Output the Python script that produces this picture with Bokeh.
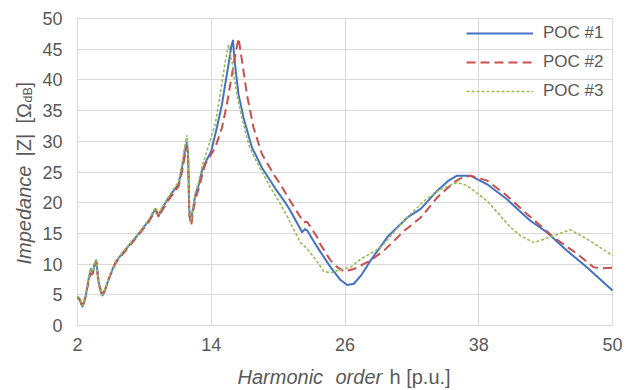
import numpy as np
from bokeh.plotting import figure
from bokeh.models import Range1d, FixedTicker, Label, LinearAxis
from bokeh.embed import file_html
from bokeh.resources import INLINE

# ---------------- data ----------------
h1 = [2.0, 2.2, 2.45, 2.75, 3.0, 3.2, 3.38, 3.53, 3.68, 3.9, 4.1, 4.25, 4.5, 4.9, 5.4, 6.0, 6.6, 7.33,
      8.4, 9.0, 9.3, 9.42, 10.0, 10.6, 11.07, 11.37, 11.67, 11.82, 11.92, 12.03, 12.2, 12.4, 12.57,
      12.86, 13.17, 13.6, 14.0, 14.5, 14.96, 15.3, 15.55, 15.8, 15.95, 16.1, 16.45, 16.9, 17.65, 18.55,
      19.75, 20.65, 21.1, 22.15, 22.4, 22.6, 23.5, 24.7, 25.6, 26.2, 26.8, 27.5, 28.3, 29.8, 31.6,
      32.8, 34.3, 35.3, 36.05, 37.25, 38.75, 40.5, 42.6, 44.1, 45.9, 47.7, 50.0]
z1 = [4.7, 4.3, 3.1, 4.9, 7.6, 9.2, 8.6, 10.0, 10.6, 7.0, 5.7, 4.9, 6.0, 8.1, 10.3, 11.7, 13.0, 14.6,
      17.1, 19.0, 17.9, 18.5, 20.3, 21.9, 23.0, 25.7, 28.8, 29.8, 28.0, 18.7, 17.3, 19.4, 21.3,
      22.8, 25.2, 27.0, 28.4, 32.2, 36.0, 39.8, 42.5, 45.5, 46.4, 43.0, 37.6, 33.8, 29.0, 25.7,
      22.3, 20.0, 18.7, 15.2, 15.7, 15.5, 12.8, 9.5, 7.4, 6.6, 6.8, 8.3, 10.6, 14.4, 17.6,
      19.0, 22.0, 23.6, 24.4, 24.4, 23.0, 20.6, 17.1, 15.2, 12.2, 9.5, 5.7]

h2 = [2.0, 2.2, 2.45, 2.75, 3.0, 3.2, 3.38, 3.53, 3.68, 3.9, 4.1, 4.25, 4.5, 4.9, 5.4, 6.0, 6.6, 7.33,
      8.4, 9.0, 9.3, 9.42, 10.0, 10.6, 11.07, 11.37, 11.67, 11.82, 11.92, 12.03, 12.2, 12.4, 12.57,
      12.86, 13.46, 14.36, 14.96, 15.4, 15.86, 16.2, 16.45, 16.6, 16.9, 17.2, 17.8, 18.55, 19.75,
      20.2, 21.25, 21.7, 22.3, 22.6, 23.5, 23.8, 24.7, 25.3, 25.9, 26.8, 28.3, 29.5, 31.3, 32.8,
      34.3, 35.75, 36.5, 37.25, 38.75, 40.55, 42.3, 44.7, 46.8, 48.3, 49.0, 50.0]
z2 = [4.6, 4.2, 3.0, 4.8, 7.4, 8.4, 8.4, 9.8, 10.4, 6.8, 5.5, 4.8, 5.9, 8.0, 10.1, 11.5, 12.8, 14.4,
      16.9, 18.8, 17.6, 18.2, 20.0, 21.5, 22.7, 25.0, 28.0, 29.2, 27.5, 18.0, 16.3, 18.8, 20.6,
      22.2, 26.3, 29.0, 32.2, 36.0, 40.9, 44.5, 46.8, 45.0, 41.4, 37.6, 32.2, 27.9, 24.2,
      23.0, 19.8, 18.5, 16.8, 16.9, 14.4, 13.2, 10.6, 9.5, 8.8, 9.2, 10.6, 12.2, 15.4, 17.6,
      20.9, 23.3, 24.1, 24.4, 23.6, 21.1, 18.2, 14.4, 11.7, 9.5, 9.3, 9.4]

h3 = [2.0, 2.2, 2.45, 2.75, 3.0, 3.2, 3.38, 3.53, 3.68, 3.9, 4.1, 4.25, 4.5, 4.9, 5.4, 6.0, 6.6, 7.33,
      8.4, 9.0, 9.3, 9.42, 10.0, 10.6, 11.07, 11.37, 11.67, 11.82, 11.92, 12.03, 12.2, 12.4, 12.57,
      12.86, 13.17, 13.6, 14.36, 14.8, 15.26, 15.55, 15.7, 15.86, 16.3, 16.76, 17.35, 17.8, 18.4,
      19.3, 20.05, 20.8, 22.0, 22.3, 22.6, 23.5, 24.1, 24.7, 25.6, 26.5, 27.4, 29.2, 31.3, 33.1,
      34.6, 36.05, 36.95, 38.75, 40.85, 41.75, 42.95, 44.7, 46.2, 47.7, 50.0]
z3 = [4.8, 4.4, 3.2, 5.0, 7.7, 9.3, 8.8, 10.1, 10.7, 7.1, 5.8, 5.0, 6.1, 8.2, 10.4, 11.8, 13.1, 14.7,
      17.3, 19.2, 18.1, 18.7, 20.5, 22.2, 23.4, 26.2, 29.8, 31.0, 28.5, 19.0, 17.1, 19.6, 21.6,
      23.3, 25.8, 28.4, 32.8, 37.6, 43.0, 45.7, 44.0, 43.0, 37.6, 33.8, 29.5, 27.6, 25.6,
      22.5, 20.3, 17.8, 13.5, 13.0, 12.5, 10.4, 8.8, 8.6, 9.1, 9.5, 10.8, 12.7, 17.1, 20.3,
      22.2, 23.3, 22.8, 20.3, 16.0, 14.6, 13.5, 14.6, 15.6, 14.1, 11.4]

series_names = ["POC #1", "POC #2", "POC #3"]
x_ticks = [2, 14, 26, 38, 50]
y_ticks = [0, 5, 10, 15, 20, 25, 30, 35, 40, 45, 50]

# ---------------- layout ----------------
W, H = 634, 390
PL, PR, PT, PB = 77, 612, 18, 325          # plot area in canvas pixels
X0, X1, Y0, Y1 = 2, 50, 0, 50              # axis extents
SX = (PR - PL) / (X1 - X0)
SY = (PB - PT) / (Y1 - Y0)

def dx(px):
    return X0 + (px - PL) / SX

def dy(py):
    return Y1 - (py - PT) / SY

GRID = "#d9d9d9"
TXT = "#595959"
FONT = "Liberation Sans"

p = figure(width=W, height=H, output_backend="svg", toolbar_location=None,
           x_range=Range1d(dx(0), dx(W)), y_range=Range1d(dy(H), dy(0)),
           x_axis_location=None, y_axis_location=None,
           min_border_left=0, min_border_right=0, min_border_top=0, min_border_bottom=0)
p.background_fill_color = "white"
p.border_fill_color = "white"
p.outline_line_color = None
p.grid.visible = False

xa = LinearAxis(ticker=FixedTicker(ticks=x_ticks), fixed_location=Y0, bounds=(X0, X1))
ya = LinearAxis(ticker=FixedTicker(ticks=y_ticks), fixed_location=X0, bounds=(Y0, Y1))
for ax, tin, so in ((xa, PB - PT, 12), (ya, PR - PL, 15)):
    ax.level = "underlay"
    ax.axis_line_color = GRID
    ax.major_tick_line_color = GRID
    ax.major_tick_in = tin
    ax.major_tick_out = 0
    ax.minor_tick_line_color = None
    ax.major_label_standoff = so
    ax.major_label_text_font = FONT
    ax.major_label_text_font_size = "18px"
    ax.major_label_text_color = TXT
p.add_layout(xa, "below")
p.add_layout(ya, "left")

p.line(h1, z1, line_color="#4472C4", line_width=2, line_join="round", legend_label=series_names[0])
p.line(h2, z2, line_color="#C9504D", line_width=2, line_dash="9 5", legend_label=series_names[1])
p.line(h3, z3, line_color="#9BBB59", line_width=1.6, line_dash="3 2", legend_label=series_names[2])

lg = p.legend[0]
lg.margin = 0
lg.padding = 6
lg.spacing = 9
lg.label_height = 14
lg.glyph_height = 14
lg.glyph_width = 67
lg.label_width = 63
lg.label_standoff = 10
lg.label_text_font = FONT
lg.label_text_font_size = "17px"
lg.label_text_color = TXT
lg.background_fill_alpha = 0
lg.border_line_alpha = 0
lg_w = 2 * 6 + 67 + 10 + 63
lg_h = 2 * 6 + 3 * 20 + 2 * 9
lg.location = (PR - lg_w, H - (PT - 1) - lg_h)

base = dict(text_font=FONT, text_color=TXT, text_baseline="alphabetic", text_align="left",
            text_font_size="20px")
SHIFT = 7  # baseline correction of the renderer for 20px text

# x axis title
yb = dy(383 - SHIFT)
p.add_layout(Label(x=dx(237), y=yb, text="Harmonic", text_font_style="italic", **base))
p.add_layout(Label(x=dx(335), y=yb, text="order", text_font_style="italic", **base))
p.add_layout(Label(x=dx(389), y=yb, text="h [p.u.]", **base))

# y axis title (rotated)
a = np.pi / 2
xb = dx(30 - SHIFT)
p.add_layout(Label(x=xb, y=dy(264), angle=a, text="Impedance", text_font_style="italic", **base))
p.add_layout(Label(x=xb, y=dy(156), angle=a, text="|Z|", **base))
p.add_layout(Label(x=xb, y=dy(123), angle=a, text="[Ω", **base))
p.add_layout(Label(x=dx(32 - SHIFT * 12.5 / 20), y=dy(102), angle=a, text="dB",
                   **{**base, "text_font_size": "12.5px"}))
p.add_layout(Label(x=xb, y=dy(87), angle=a, text="]", **base))

open("out.html", "w").write(file_html(p, INLINE))
